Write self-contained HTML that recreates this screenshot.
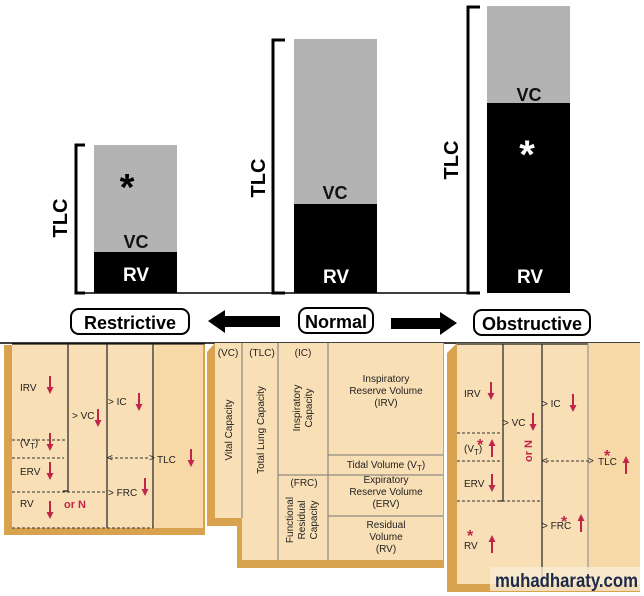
<!DOCTYPE html>
<html><head><meta charset="utf-8"><style>
html,body{margin:0;padding:0;background:#fff;}
svg{display:block;font-family:"Liberation Sans",Arial,sans-serif;}
</style></head><body>
<svg width="644" height="596" viewBox="0 0 644 596" xmlns="http://www.w3.org/2000/svg">
<defs>
<g id="dn"><line x1="0" y1="-9" x2="0" y2="3" stroke="#c0264a" stroke-width="2"/><polygon points="-3.5,2 3.5,2 0,9" fill="#c0264a"/></g>
<g id="up"><line x1="0" y1="9" x2="0" y2="-3" stroke="#c0264a" stroke-width="2"/><polygon points="-3.5,-2 3.5,-2 0,-9" fill="#c0264a"/></g>
</defs>
<line x1="75" y1="293" x2="480" y2="293" stroke="#000" stroke-width="1.5"/>
<path d="M85 145 H76 V293 H85" fill="none" stroke="#000" stroke-width="3"/>
<rect x="94" y="145" width="83" height="107" fill="#b3b3b3"/>
<rect x="94" y="252" width="83" height="41" fill="#000"/>
<text x="127" y="200" font-size="38" font-weight="bold" text-anchor="middle">*</text>
<text x="136" y="248" font-size="18" font-weight="bold" text-anchor="middle" fill="#111">VC</text>
<text x="136" y="281" font-size="19" font-weight="bold" text-anchor="middle" fill="#fff">RV</text>
<text transform="translate(67,218) rotate(-90)" font-size="20" font-weight="bold" text-anchor="middle">TLC</text>
<path d="M285 40 H273 V293 H285" fill="none" stroke="#000" stroke-width="3"/>
<rect x="294" y="39" width="83" height="165" fill="#b3b3b3"/>
<rect x="294" y="204" width="83" height="89" fill="#000"/>
<text x="335" y="199" font-size="18" font-weight="bold" text-anchor="middle" fill="#111">VC</text>
<text x="336" y="283" font-size="19" font-weight="bold" text-anchor="middle" fill="#fff">RV</text>
<text transform="translate(265,178) rotate(-90)" font-size="20" font-weight="bold" text-anchor="middle">TLC</text>
<path d="M480 7 H468 V293 H480" fill="none" stroke="#000" stroke-width="3"/>
<rect x="487" y="6" width="83" height="97" fill="#b3b3b3"/>
<rect x="487" y="103" width="83" height="190" fill="#000"/>
<text x="529" y="101" font-size="18" font-weight="bold" text-anchor="middle" fill="#111">VC</text>
<text x="527" y="168" font-size="40" font-weight="bold" text-anchor="middle" fill="#fff">*</text>
<text x="530" y="283" font-size="19" font-weight="bold" text-anchor="middle" fill="#fff">RV</text>
<text transform="translate(458,160) rotate(-90)" font-size="20" font-weight="bold" text-anchor="middle">TLC</text>
<rect x="71" y="309" width="118" height="25" rx="8" fill="#fff" stroke="#000" stroke-width="2"/>
<text x="130" y="329" font-size="18" font-weight="bold" text-anchor="middle">Restrictive</text>
<rect x="299" y="308" width="74" height="25" rx="8" fill="#fff" stroke="#000" stroke-width="2"/>
<text x="336" y="328" font-size="18" font-weight="bold" text-anchor="middle">Normal</text>
<rect x="474" y="310" width="116" height="25" rx="8" fill="#fff" stroke="#000" stroke-width="2"/>
<text x="532" y="330" font-size="18" font-weight="bold" text-anchor="middle">Obstructive</text>
<polygon points="208,321 225,310 225,316 280,316 280,327 225,327 225,333" fill="#000"/>
<polygon points="457,323 440,312 440,318 391,318 391,329 440,329 440,335" fill="#000"/>
<line x1="0" y1="343" x2="640" y2="343" stroke="#000" stroke-width="1.5"/>

<rect x="4" y="345" width="201" height="190" fill="#d9a24e"/>
<rect x="12" y="344" width="191" height="184" fill="#f9dfb5"/>
<rect x="155" y="344" width="48" height="184" fill="#f7d9a8"/>
<g stroke="#222" stroke-width="1.2" fill="none">
<path d="M12 344 H205"/>
<path d="M68 344 V491 H63"/>
<line x1="107" y1="344" x2="107" y2="528"/>
<line x1="153" y1="344" x2="153" y2="528"/>
</g>
<g stroke="#333" stroke-width="1" stroke-dasharray="3,2" fill="none">
<line x1="12" y1="440" x2="67" y2="440"/>
<line x1="12" y1="458" x2="64" y2="458"/>
<line x1="12" y1="492" x2="106" y2="492"/>
<line x1="12" y1="528" x2="153" y2="528"/>
<line x1="110" y1="458" x2="150" y2="458"/>
</g>
<g fill="#222" font-size="10">
<text x="20" y="391">IRV</text>
<text x="72" y="419">&gt; VC</text>
<text x="108" y="405">&gt; IC</text>
<text x="20" y="446">(V<tspan font-size="8" dy="3">T</tspan><tspan dy="-3">)</tspan></text>
<text x="20" y="475">ERV</text>
<text x="108" y="496">&gt; FRC</text>
<text x="157" y="463">TLC</text>
<text x="20" y="507">RV</text>
<text x="107" y="461">&lt;</text><text x="149" y="461">&gt;</text>
</g>
<text x="64" y="508" font-size="11" font-weight="bold" fill="#c0264a">or N</text>
<use href="#dn" x="50" y="385"/><use href="#dn" x="98" y="418"/><use href="#dn" x="139" y="402"/>
<use href="#dn" x="50" y="442"/><use href="#dn" x="50" y="471"/><use href="#dn" x="145" y="487"/>
<use href="#dn" x="191" y="458"/><use href="#dn" x="50" y="510"/>

<path d="M207 352 L215 343 H444 V568 H237 V526 H207 Z" fill="#d9a24e"/>
<path d="M215 343 H443 V560 H242 V518 H215 Z" fill="#f9dfb5"/>
<g stroke="#777" stroke-width="1" fill="none">
<line x1="242" y1="343" x2="242" y2="518"/>
<line x1="278" y1="343" x2="278" y2="560"/>
<line x1="328" y1="343" x2="328" y2="560"/>
<line x1="328" y1="455" x2="443" y2="455"/>
<line x1="278" y1="475" x2="443" y2="475"/>
<line x1="328" y1="516" x2="443" y2="516"/>
</g>
<g fill="#222" font-size="10" text-anchor="middle">
<text x="228" y="356">(VC)</text>
<text x="262" y="356">(TLC)</text>
<text x="303" y="356">(IC)</text>
<text x="386" y="382">Inspiratory</text>
<text x="386" y="394">Reserve Volume</text>
<text x="386" y="406">(IRV)</text>
<text x="386" y="468">Tidal Volume (V<tspan font-size="8" dy="3">T</tspan><tspan dy="-3">)</tspan></text>
<text x="304" y="486">(FRC)</text>
<text x="386" y="483">Expiratory</text>
<text x="386" y="495">Reserve Volume</text>
<text x="386" y="507">(ERV)</text>
<text x="386" y="528">Residual</text>
<text x="386" y="540">Volume</text>
<text x="386" y="552">(RV)</text>
<text transform="translate(232,430) rotate(-90)">Vital Capacity</text>
<text transform="translate(264,430) rotate(-90)">Total Lung Capacity</text>
<text transform="translate(300,408) rotate(-90)">Inspiratory</text>
<text transform="translate(312,408) rotate(-90)">Capacity</text>
<text transform="translate(293,520) rotate(-90)">Functional</text>
<text transform="translate(305,520) rotate(-90)">Residual</text>
<text transform="translate(317,520) rotate(-90)">Capacity</text>
</g>

<path d="M447 353 L457 343 H640 V592 H447 Z" fill="#d9a24e"/>
<rect x="457" y="343" width="183" height="241" fill="#f9dfb5"/>
<rect x="588" y="343" width="52" height="241" fill="#f7d9a8"/>
<g stroke="#222" stroke-width="1.2" fill="none">
<path d="M457 344 H588"/>
<path d="M503 344 V501 H498"/>
<line x1="542" y1="344" x2="542" y2="584"/>
<line x1="588" y1="344" x2="588" y2="584" stroke="#999"/>
</g>
<g stroke="#333" stroke-width="1" stroke-dasharray="3,2" fill="none">
<line x1="457" y1="433" x2="502" y2="433"/>
<line x1="457" y1="461" x2="502" y2="461"/>
<line x1="457" y1="501" x2="541" y2="501"/>
<line x1="546" y1="461" x2="590" y2="461"/>
</g>
<g fill="#222" font-size="10">
<text x="464" y="397">IRV</text>
<text x="503" y="426">&gt; VC</text>
<text x="542" y="407">&gt; IC</text>
<text x="464" y="452">(V<tspan font-size="8" dy="3">T</tspan><tspan dy="-3">)</tspan></text>
<text x="464" y="487">ERV</text>
<text x="542" y="529">&gt; FRC</text>
<text x="598" y="465">TLC</text>
<text x="464" y="549">RV</text>
<text x="542" y="464">&lt;</text><text x="588" y="464">&gt;</text>
</g>
<g fill="#c0264a" font-size="16" font-weight="bold">
<text x="477" y="450">*</text><text x="604" y="461">*</text><text x="561" y="527">*</text><text x="467" y="541">*</text>
</g>
<text transform="translate(532,462) rotate(-90)" font-size="11" font-weight="bold" fill="#c0264a">or N</text>
<use href="#dn" x="491" y="391"/><use href="#dn" x="533" y="422"/><use href="#dn" x="573" y="403"/>
<use href="#up" x="492" y="448"/><use href="#dn" x="492" y="483"/><use href="#up" x="581" y="523"/>
<use href="#up" x="626" y="465"/><use href="#up" x="492" y="544"/>
<rect x="490" y="567" width="150" height="24" fill="#f9ecd4" opacity="0.8"/>
<text x="495" y="587" font-size="19" font-weight="bold" fill="#1d2a48" textLength="143" lengthAdjust="spacingAndGlyphs">muhadharaty.com</text>
</svg>
</body></html>
